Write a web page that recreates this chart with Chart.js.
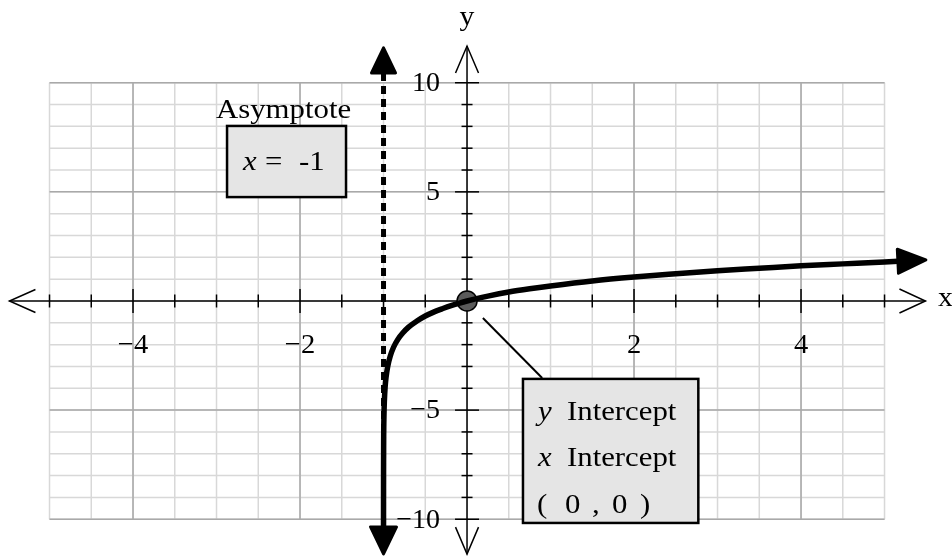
<!DOCTYPE html>
<html><head><meta charset="utf-8">
<script src="https://cdn.jsdelivr.net/npm/chart.js@4/dist/chart.umd.min.js"></script>
<style>html,body{margin:0;padding:0;background:#fff;overflow:hidden}#wrap{width:952px;height:557px;position:relative}</style>
</head><body><div id="wrap"><canvas id="c" width="952" height="557"></canvas></div>
<script>
// ---- data ----
const curveX = [-0.99997, -0.9999, -0.9995, -0.998, -0.995, -0.99, -0.98, -0.97, -0.95, -0.92, -0.88, -0.83, -0.77, -0.7, -0.6, -0.5, -0.4, -0.3, -0.2, -0.1, 0, 0.25, 0.5, 0.75, 1, 1.5, 2, 2.5, 3, 3.5, 4, 4.5, 5, 5.16];
const curveY = [-10.35, -9.2, -7.6, -6.2, -5.3, -4.6, -3.9, -3.5, -3.0, -2.53, -2.12, -1.77, -1.47, -1.2, -0.92, -0.69, -0.51, -0.36, -0.22, -0.105, 0, 0.22, 0.41, 0.56, 0.69, 0.92, 1.1, 1.25, 1.39, 1.5, 1.61, 1.70, 1.79, 1.82];
const asymptoteX = [-1, -1];
const asymptoteY = [10.45, -10.35];
const interceptX = [0];
const interceptY = [0];
const xTickValues = [-4, -2, 2, 4];
const xTickLabels = ['\u22124', '\u22122', '2', '4'];
const yTickValues = [10, 5, -5, -10];
const yTickLabels = ['10', '5', '\u22125', '\u221210'];
const gridX = [-5, -4.5, -4, -3.5, -3, -2.5, -2, -1.5, -1, -0.5, 0, 0.5, 1, 1.5, 2, 2.5, 3, 3.5, 4, 4.5, 5];
const gridY = [-10, -9, -8, -7, -6, -5, -4, -3, -2, -1, 0, 1, 2, 3, 4, 5, 6, 7, 8, 9, 10];
const gridXMajor = [-4, -2, 2, 4];
const gridYMajor = [-10, -5, 5, 10];

const SERIF = '"Liberation Serif", "Times New Roman", serif';

function tri(ctx, bx, by, dx, dy, len, hw) {
  const L = Math.hypot(dx, dy); dx /= L; dy /= L;
  const nx = -dy, ny = dx;
  ctx.beginPath();
  ctx.moveTo(bx + dx * len, by + dy * len);
  ctx.lineTo(bx + nx * hw, by + ny * hw);
  ctx.lineTo(bx - nx * hw, by - ny * hw);
  ctx.closePath();
  ctx.fill();
  ctx.stroke();
}
function chevron(ctx, tx, ty, dx, dy, len, hw) {
  const nx = -dy, ny = dx;
  ctx.beginPath();
  ctx.moveTo(tx - dx * len + nx * hw, ty - dy * len + ny * hw);
  ctx.lineTo(tx, ty);
  ctx.lineTo(tx - dx * len - nx * hw, ty - dy * len - ny * hw);
  ctx.stroke();
}
function wtext(ctx, s, x, y, size, italic, align, stretch) {
  ctx.save();
  ctx.font = (italic ? 'italic ' : '') + size + 'px ' + SERIF;
  ctx.textAlign = align || 'left';
  ctx.translate(x, y);
  ctx.scale(stretch || 1.1, 1);
  ctx.fillText(s, 0, 0);
  ctx.restore();
}

const backgroundPlugin = {
  id: 'axesGrid',
  beforeDatasetsDraw(chart) {
    const ctx = chart.ctx, sx = chart.scales.x, sy = chart.scales.y;
    const X = v => sx.getPixelForValue(v), Y = v => sy.getPixelForValue(v);
    ctx.save();
    ctx.lineWidth = 1.5;
    ctx.strokeStyle = '#d8d8d8';
    gridX.forEach(v => { ctx.beginPath(); ctx.moveTo(X(v), Y(10)); ctx.lineTo(X(v), Y(-10)); ctx.stroke(); });
    gridY.forEach(v => { ctx.beginPath(); ctx.moveTo(X(-5), Y(v)); ctx.lineTo(X(5), Y(v)); ctx.stroke(); });
    ctx.strokeStyle = '#a9a9a9';
    gridXMajor.forEach(v => { ctx.beginPath(); ctx.moveTo(X(v), Y(10)); ctx.lineTo(X(v), Y(-10)); ctx.stroke(); });
    gridYMajor.forEach(v => { ctx.beginPath(); ctx.moveTo(X(-5), Y(v)); ctx.lineTo(X(5), Y(v)); ctx.stroke(); });

    ctx.strokeStyle = '#000';
    ctx.lineWidth = 1.5;
    const x0 = X(0), y0 = Y(0);
    const xl = X(-5.48), xr = X(5.49), yt = Y(11.68), yb = Y(-11.6);
    ctx.beginPath(); ctx.moveTo(xl, y0); ctx.lineTo(xr, y0); ctx.stroke();
    ctx.beginPath(); ctx.moveTo(x0, yt); ctx.lineTo(x0, yb); ctx.stroke();
    chevron(ctx, xl, y0, -1, 0, 26, 11.5);
    chevron(ctx, xr, y0, 1, 0, 26, 12);
    chevron(ctx, x0, yt, 0, -1, 27, 11.5);
    chevron(ctx, x0, yb, 0, 1, 27, 11.5);

    gridX.forEach(v => {
      if (v === 0) return;
      const h = gridXMajor.includes(v) ? 12 : 6.5;
      ctx.beginPath(); ctx.moveTo(X(v), y0 - h); ctx.lineTo(X(v), y0 + h); ctx.stroke();
    });
    gridY.forEach(v => {
      if (v === 0) return;
      const h = gridYMajor.includes(v) ? 12 : 5.5;
      ctx.beginPath(); ctx.moveTo(x0 - h, Y(v)); ctx.lineTo(x0 + h, Y(v)); ctx.stroke();
    });

    ctx.fillStyle = '#000';
    ctx.textBaseline = 'middle';
    xTickValues.forEach((v, i) => wtext(ctx, xTickLabels[i], X(v), y0 + 45, 28, false, 'center', 1.02));
    yTickValues.forEach((v, i) => wtext(ctx, yTickLabels[i], x0 - 27, Y(v) + 1, 28, false, 'right', 1.0));
    wtext(ctx, 'x', xr + 20, y0 - 2, 27, false, 'center');
    wtext(ctx, 'y', x0, yt - 28, 27, false, 'center');
    ctx.restore();
  }
};

const overlayPlugin = {
  id: 'overlay',
  afterDatasetsDraw(chart) {
    const ctx = chart.ctx, sx = chart.scales.x, sy = chart.scales.y;
    const X = v => sx.getPixelForValue(v), Y = v => sy.getPixelForValue(v);
    ctx.save();
    ctx.fillStyle = '#000'; ctx.strokeStyle = '#000';
    ctx.lineJoin = 'round'; ctx.lineWidth = 3;
    const aMeta = chart.getDatasetMeta(1).data;
    tri(ctx, aMeta[0].x, aMeta[0].y, 0, -1, 25, 12);
    const c = chart.getDatasetMeta(0).data;
    const n = c.length;
    tri(ctx, c[0].x, c[0].y, c[0].x - c[1].x, c[0].y - c[1].y, 27, 13);
    tri(ctx, c[n - 1].x, c[n - 1].y, c[n - 1].x - c[n - 2].x, c[n - 1].y - c[n - 2].y, 28, 12);

    ctx.lineWidth = 2;
    ctx.beginPath(); ctx.moveTo(X(0.19), Y(-0.78)); ctx.lineTo(X(0.9), Y(-3.53)); ctx.stroke();

    const b2l = X(0.67), b2r = X(2.77), b2t = Y(-3.57), b2b = Y(-10.17);
    ctx.fillStyle = '#e5e5e5';
    ctx.fillRect(b2l, b2t, b2r - b2l, b2b - b2t);
    ctx.lineWidth = 2.5; ctx.lineJoin = 'miter';
    ctx.strokeRect(b2l, b2t, b2r - b2l, b2b - b2t);
    ctx.fillStyle = '#000';
    ctx.textBaseline = 'alphabetic';
    wtext(ctx, 'y', b2l + 15, b2t + 41, 28, true);
    wtext(ctx, 'x', b2l + 15, b2t + 87, 28, true);
    wtext(ctx, 'Intercept', b2l + 44, b2t + 41, 28);
    wtext(ctx, 'Intercept', b2l + 44, b2t + 87, 28);
    wtext(ctx, '(', b2l + 14, b2t + 134, 28);
    wtext(ctx, '0', b2l + 42, b2t + 134, 28);
    wtext(ctx, ',', b2l + 69, b2t + 134, 28);
    wtext(ctx, '0', b2l + 89, b2t + 134, 28);
    wtext(ctx, ')', b2l + 117, b2t + 134, 28);

    const b1l = X(-2.874), b1r = X(-1.449), b1t = Y(8.02), b1b = Y(4.76);
    ctx.fillStyle = '#e5e5e5';
    ctx.fillRect(b1l, b1t, b1r - b1l, b1b - b1t);
    ctx.strokeRect(b1l, b1t, b1r - b1l, b1b - b1t);
    ctx.fillStyle = '#000';
    wtext(ctx, 'x', b1l + 16, b1t + 44, 28, true);
    wtext(ctx, '=', b1l + 38, b1t + 44, 28);
    wtext(ctx, '-1', b1l + 72, b1t + 44, 28);
    wtext(ctx, 'Asymptote', (b1l + b1r) / 2 - 3, b1t - 8, 28, false, 'center');
    ctx.restore();
  }
};

const toPts = (xs, ys) => xs.map((x, i) => ({ x: x, y: ys[i] }));

new Chart(document.getElementById('c'), {
  type: 'scatter',
  data: {
    datasets: [
      { label: 'y = ln(x + 1)', data: toPts(curveX, curveY), showLine: true, borderColor: '#000', borderWidth: 5.5,
        pointRadius: 0, cubicInterpolationMode: 'monotone', borderCapStyle: 'butt', order: 0 },
      { label: 'Asymptote x = -1', data: toPts(asymptoteX, asymptoteY), showLine: true, borderColor: '#000', borderWidth: 5,
        borderDash: [8, 5], pointRadius: 0, order: 2 },
      { label: 'Intercept', data: toPts(interceptX, interceptY), showLine: false, pointRadius: 10,
        backgroundColor: '#5a5a5a', borderColor: '#000', borderWidth: 1.5, order: 1 }
    ]
  },
  options: {
    responsive: false,
    animation: false,
    devicePixelRatio: 1,
    layout: { padding: 0, autoPadding: false },
    plugins: { legend: { display: false }, tooltip: { enabled: false } },
    scales: {
      x: { type: 'linear', display: false, min: -5.593, max: 5.808 },
      y: { type: 'linear', display: false, min: -11.73, max: 13.79 }
    }
  },
  plugins: [backgroundPlugin, overlayPlugin]
});
</script>
</body></html>
